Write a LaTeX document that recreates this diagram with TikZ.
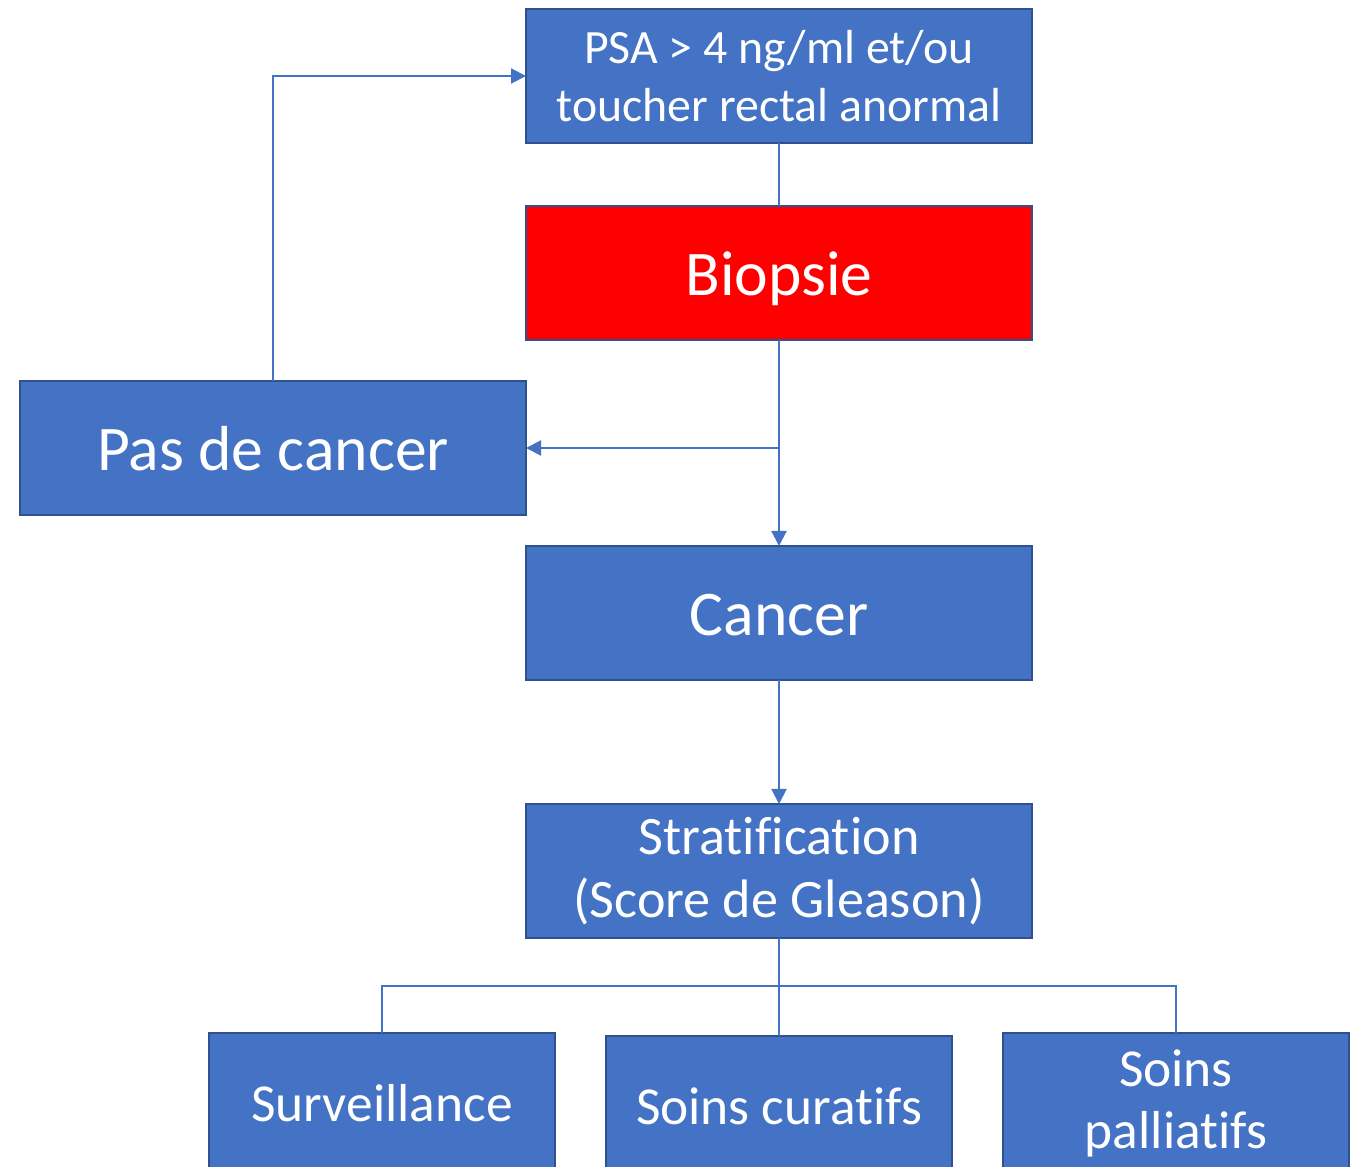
\documentclass[tikz,border=0pt]{standalone}
\usepackage{fontspec}
\setmainfont{Carlito}[Ligatures=CommonOff]
\usetikzlibrary{arrows.meta,positioning,calc}
\definecolor{boxblue}{HTML}{4472C4}
\definecolor{edgeblue}{HTML}{2F528F}
\definecolor{alertred}{HTML}{FF0000}
\tikzset{
  process/.style={draw=edgeblue,line width=0.6pt,fill=boxblue,text=white,
    minimum width=5.06cm,minimum height=1.34cm,align=center,inner sep=0pt,outer sep=0pt},
  flow/.style={-{Triangle[length=1.5mm,width=1.5mm]},draw=boxblue,line width=0.6pt},
  link/.style={draw=boxblue,line width=0.4pt}
}

\begin{document}
\begin{tikzpicture}[
  bigbox/.style={process,font=\fontsize{18.1}{22}\selectfont,text height=0.48cm,text depth=0.02cm},
  treatment/.style={process,minimum width=3.46cm,minimum height=1.40cm,
    font=\fontsize{15.2}{17.6}\selectfont}
]
  \useasboundingbox (0,0) rectangle (13.59,-11.67);
  \node[process,font=\fontsize{13.6}{16.5}\selectfont] (psa) at (7.79,-0.76) {PSA > 4 ng/ml et/ou\\toucher rectal anormal};
  \node[bigbox,fill=alertred] (biopsie) at (7.79,-2.73) {Biopsie};
  \node[bigbox] (pas) at (2.73,-4.48) {Pas de cancer};
  \node[bigbox] (cancer) at (7.79,-6.13) {Cancer};
  \node[process,font=\fontsize{15.4}{17.9}\selectfont] (strat) at (7.79,-8.71) {Stratification\\(Score de Gleason)};
  \node[treatment] (surv) at (3.82,-11.03) {Surveillance};
  \node[treatment] (curatifs) at (7.79,-11.06) {Soins curatifs};
  \node[treatment] (palliatifs) at (11.76,-11.03) {Soins\\palliatifs};
  % connectors
  \coordinate (split) at (biopsie.south |- pas.east);
  \coordinate (fork) at (7.79,-9.86);
  \draw[link] (psa) -- (biopsie);
  \draw[flow] (biopsie) -- (cancer);
  \draw[flow] (split) -- (pas);
  \draw[flow] (pas.north) |- (psa.west);
  \draw[flow] (cancer) -- (strat);
  \draw[link] (strat) -- (fork);
  \draw[link] (surv.north) |- (fork) -| (palliatifs.north);
  \draw[link] (fork) -- (curatifs.north);
\end{tikzpicture}
\end{document}
